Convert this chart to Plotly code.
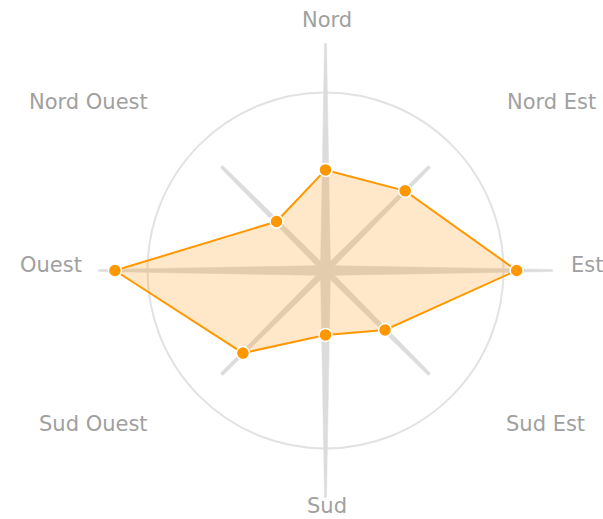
import math
import plotly.graph_objects as go

# ---- data ----
directions = ["Nord", "Nord Est", "Est", "Sud Est", "Sud", "Sud Ouest", "Ouest", "Nord Ouest"]
angles = [0, 45, 90, 135, 180, 225, 270, 315]
values = [5.65, 6.33, 10.74, 4.73, 3.62, 6.56, 11.83, 3.89]
circle_value = 10

# ---- geometry / style constants ----
W, H = 603, 519
CX, CY = 325.5, 270.5          # centre in pixels
PX_PER_UNIT = 17.8
R_MAX = 13.0
R_PX = R_MAX * PX_PER_UNIT

ORANGE = "#FF9800"
SPIKE = "#dcdcdc"
LABEL = "#a0a0a0"

fig = go.Figure()

def spike(theta, length_px, w0_px, w1_px):
    L = length_px / PX_PER_UNIT
    w0 = w0_px / PX_PER_UNIT
    w1 = w1_px / PX_PER_UNIT
    rt = math.hypot(L, w1)
    d = math.degrees(math.atan2(w1, L))
    r = [w0, rt, rt, w0, w0]
    t = [theta + 90, theta + d, theta - d, theta - 90, theta + 90]
    return r, t

for i, a in enumerate(angles):
    if a % 90 == 0:
        r, t = spike(a, 227, 5.0, 1.0)
    else:
        r, t = spike(a, 147, 3.2, 1.6)
    fig.add_trace(go.Scatterpolar(
        r=r, theta=t, mode="lines", fill="toself",
        fillcolor=SPIKE, line=dict(color=SPIKE, width=0.5),
        hoverinfo="skip", showlegend=False))

fig.add_trace(go.Scatterpolar(
    r=values + [values[0]],
    theta=angles + [angles[0]],
    mode="lines+markers",
    fill="toself",
    fillcolor="rgba(255,150,10,0.22)",
    line=dict(color=ORANGE, width=2),
    marker=dict(color=ORANGE, size=13, line=dict(color="white", width=1.5)),
    showlegend=False,
))

fig.update_layout(
    width=W, height=H,
    margin=dict(l=0, r=0, t=0, b=0),
    paper_bgcolor="white",
    showlegend=False,
    polar=dict(
        domain=dict(x=[(CX - R_PX) / W, (CX + R_PX) / W],
                    y=[(H - CY - R_PX) / H, (H - CY + R_PX) / H]),
        bgcolor="rgba(0,0,0,0)",
        radialaxis=dict(range=[0, R_MAX], tickvals=[circle_value], showticklabels=False,
                        showline=False, ticks="", gridcolor="#e2e2e2", gridwidth=2),
        angularaxis=dict(rotation=90, direction="clockwise", showgrid=False,
                         showline=False, ticks="", showticklabels=False,
                         tickmode="array", tickvals=angles),
    ),
)

# label positions (pixels)
label_pos = [(327, 20), (551, 102), (587, 265), (545, 424),
             (327, 506), (93, 424), (51, 265), (88, 102)]
for name, (x, y) in zip(directions, label_pos):
    fig.add_annotation(x=x / W, y=1 - y / H, xref="paper", yref="paper",
                       text=name, showarrow=False, xanchor="center", yanchor="middle",
                       font=dict(family="DejaVu Sans, sans-serif", size=21, color=LABEL))

fig.write_html("out.html", config={"displayModeBar": False},
               post_script="document.body.style.margin='0';document.body.style.overflow='hidden';")
